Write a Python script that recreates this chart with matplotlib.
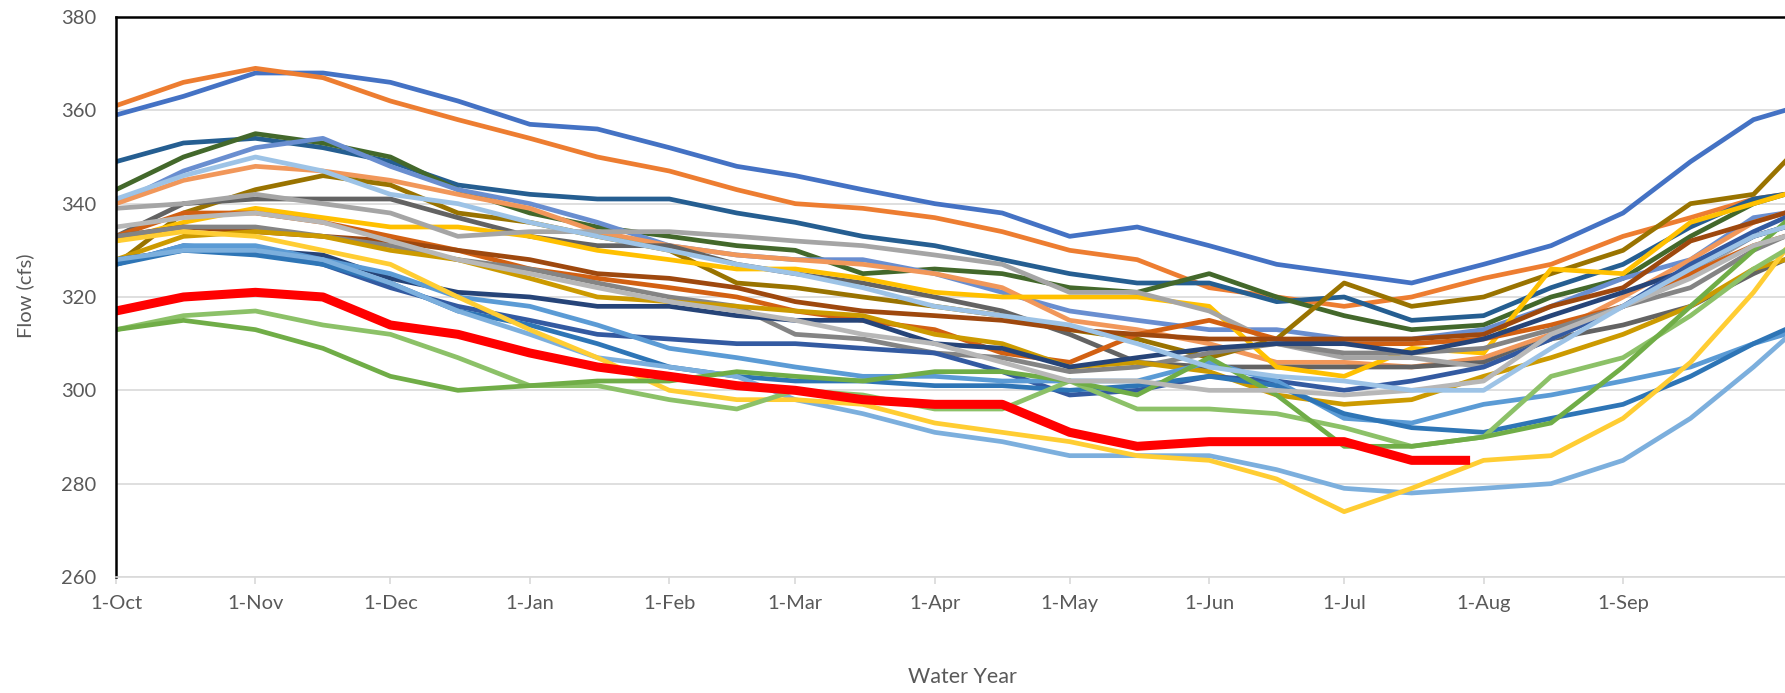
import matplotlib
matplotlib.use('Agg')
import matplotlib.pyplot as plt

plt.rcParams['font.family'] = ['Lato', 'DejaVu Sans']

# day of water year (0 = 1-Oct), sampled on the 1st and 15th of each month
days = [0, 15, 31, 46, 61, 76, 92, 107, 123, 138, 151, 166, 182, 197,
        212, 227, 243, 258, 273, 288, 304, 319, 335, 350, 364, 371]

month_days = [0, 31, 61, 92, 123, 151, 182, 212, 243, 273, 304, 335]
month_labels = ['1-Oct', '1-Nov', '1-Dec', '1-Jan', '1-Feb', '1-Mar',
                '1-Apr', '1-May', '1-Jun', '1-Jul', '1-Aug', '1-Sep']

# past water years (cfs)
y01 = [359, 363, 368, 368, 366, 362, 357, 356, 352, 348, 346, 343, 340,
       338, 333, 335, 331, 327, 325, 323, 327, 331, 338, 349, 358, 360]
y02 = [361, 366, 369, 367, 362, 358, 354, 350, 347, 343, 340, 339, 337,
       334, 330, 328, 322, 320, 318, 320, 324, 327, 333, 337, 341, 342]
y03 = [349, 353, 354, 352, 349, 344, 342, 341, 341, 338, 336, 333, 331,
       328, 325, 323, 323, 319, 320, 315, 316, 322, 327, 335, 341, 342]
y04 = [343, 350, 355, 353, 350, 343, 338, 335, 333, 331, 330, 325, 326,
       325, 322, 321, 325, 320, 316, 313, 314, 320, 324, 333, 340, 342]
y05 = [340, 347, 352, 354, 348, 343, 340, 336, 331, 329, 328, 328, 325,
       321, 317, 315, 313, 313, 311, 311, 313, 318, 324, 328, 337, 338]
y06 = [340, 345, 348, 347, 345, 342, 339, 334, 331, 329, 328, 327, 325,
       322, 315, 313, 310, 306, 306, 305, 307, 312, 320, 328, 336, 338]
y07 = [327, 338, 343, 346, 344, 338, 336, 333, 330, 323, 322, 320, 318,
       316, 313, 311, 307, 311, 323, 318, 320, 325, 330, 340, 342, 349]
y08 = [333, 340, 341, 341, 341, 337, 333, 331, 331, 327, 325, 323, 320,
       317, 312, 306, 305, 305, 305, 305, 306, 311, 314, 318, 325, 328]
y09 = [332, 336, 339, 337, 335, 335, 333, 330, 328, 326, 326, 324, 321,
       320, 320, 320, 318, 305, 303, 309, 308, 326, 325, 336, 340, 342]
y10 = [339, 340, 342, 340, 338, 333, 334, 334, 334, 333, 332, 331, 329,
       327, 321, 321, 317, 310, 307, 307, 305, 311, 318, 325, 333, 335]
y11 = [333, 338, 338, 336, 333, 330, 326, 324, 322, 320, 317, 315, 313,
       308, 306, 312, 315, 311, 310, 310, 311, 314, 318, 325, 331, 333]
y12 = [333, 335, 334, 333, 332, 330, 328, 325, 324, 322, 319, 317, 316,
       315, 313, 312, 311, 311, 311, 311, 312, 318, 322, 332, 336, 338]
y13 = [333, 335, 335, 333, 331, 328, 326, 323, 320, 318, 312, 311, 308,
       307, 304, 305, 308, 310, 308, 308, 309, 313, 318, 322, 330, 333]
y14 = [328, 333, 334, 333, 330, 328, 324, 320, 319, 318, 317, 316, 312,
       310, 305, 306, 304, 299, 297, 298, 303, 307, 312, 318, 326, 328]
y15 = [328, 330, 330, 329, 324, 321, 320, 318, 318, 316, 315, 315, 310,
       309, 305, 307, 309, 310, 310, 308, 311, 316, 321, 326, 333, 335]
y16 = [327, 331, 330, 327, 322, 318, 315, 312, 311, 310, 310, 309, 308,
       304, 299, 300, 303, 302, 300, 302, 305, 311, 318, 327, 334, 337]
y17 = [327, 331, 331, 328, 325, 320, 318, 314, 309, 307, 305, 303, 303,
       302, 302, 302, 306, 302, 294, 293, 297, 299, 302, 305, 310, 312]
y18 = [327, 330, 329, 327, 323, 317, 314, 310, 305, 303, 302, 302, 301,
       301, 300, 301, 303, 301, 295, 292, 291, 294, 297, 303, 310, 313]
y19 = [328, 330, 330, 328, 323, 317, 312, 307, 305, 303, 298, 295, 291,
       289, 286, 286, 286, 283, 279, 278, 279, 280, 285, 294, 305, 311]
y20 = [332, 334, 333, 330, 327, 320, 313, 307, 300, 298, 298, 297, 293,
       291, 289, 286, 285, 281, 274, 279, 285, 286, 294, 306, 321, 330]
y21 = [313, 316, 317, 314, 312, 307, 301, 301, 298, 296, 300, 299, 296,
       296, 302, 296, 296, 295, 292, 288, 290, 303, 307, 316, 326, 330]
y22 = [313, 315, 313, 309, 303, 300, 301, 302, 302, 304, 303, 302, 304,
       304, 302, 299, 307, 299, 288, 288, 290, 293, 305, 318, 330, 336]
y23 = [335, 337, 338, 336, 332, 328, 325, 322, 319, 317, 315, 312, 310,
       306, 302, 302, 300, 300, 299, 300, 302, 312, 318, 324, 331, 333]
y24 = [341, 346, 350, 347, 342, 340, 336, 333, 330, 327, 325, 322, 318,
       316, 314, 310, 305, 303, 302, 300, 300, 309, 318, 326, 333, 335]

# current water year, through late July
cur_days = [0, 15, 31, 46, 61, 76, 92, 107, 123, 138, 151, 166, 182, 197,
            212, 227, 243, 258, 273, 288, 300]
cur = [317, 320, 321, 320, 314, 312, 308, 305, 303, 301, 300, 298, 297,
       297, 291, 288, 289, 289, 289, 285, 285]

past = [y01, y02, y03, y04, y05, y06, y07, y08, y09, y10, y11, y12,
        y13, y14, y15, y16, y17, y18, y19, y20, y21, y22, y23, y24]
colors = ['#4472C4', '#ED7D31', '#255E91', '#43682B', '#698ED0', '#F1975A',
          '#997300', '#636363', '#FFC000', '#A5A5A5', '#D26012', '#9E480E',
          '#848484', '#CC9A00', '#264478', '#335AA1', '#5B9BD5', '#2E75B6',
          '#7CAFDD', '#FFCD33', '#8CC168', '#70AD47', '#B7B7B7', '#9DC3E6']

fig = plt.figure(figsize=(17.85, 6.93), dpi=100)
ax = fig.add_axes([116 / 1785, 116 / 693, 1 - 116 / 1785, 560 / 693])

for vals, c in zip(past, colors):
    ax.plot(days, vals, color=c, lw=3.4, solid_joinstyle='round')
ax.plot(cur_days, cur, color='#FF0000', lw=6.5, solid_joinstyle='round')

ax.set_xlim(0, 371)
ax.set_ylim(260, 380)
ax.set_yticks(range(260, 381, 20))
ax.set_xticks(month_days)
ax.set_xticklabels(month_labels)
ax.grid(axis='y', color='#d9d9d9', lw=1.2)
ax.set_axisbelow(True)

ax.spines['top'].set_color('#000000')
ax.spines['top'].set_linewidth(1.8)
ax.spines['left'].set_color('#000000')
ax.spines['left'].set_linewidth(1.8)
ax.spines['bottom'].set_color('#d9d9d9')
ax.spines['bottom'].set_linewidth(1.2)
ax.spines['right'].set_visible(False)

ax.tick_params(axis='x', direction='out', length=5, width=1.2, color='#d9d9d9',
               labelcolor='#595959', labelsize=14.5, pad=8)
ax.tick_params(axis='y', length=0, labelcolor='#595959', labelsize=14.5, pad=14)

fig.text(25 / 1785, 1 - 296 / 693, 'Flow (cfs)', rotation=90, ha='center',
         va='center', color='#595959', fontsize=14.5)
fig.text(962 / 1785, 1 - 677 / 693, 'Water Year', ha='center', va='center',
         color='#595959', fontsize=15.5)

fig.savefig('out.png', dpi=100)
